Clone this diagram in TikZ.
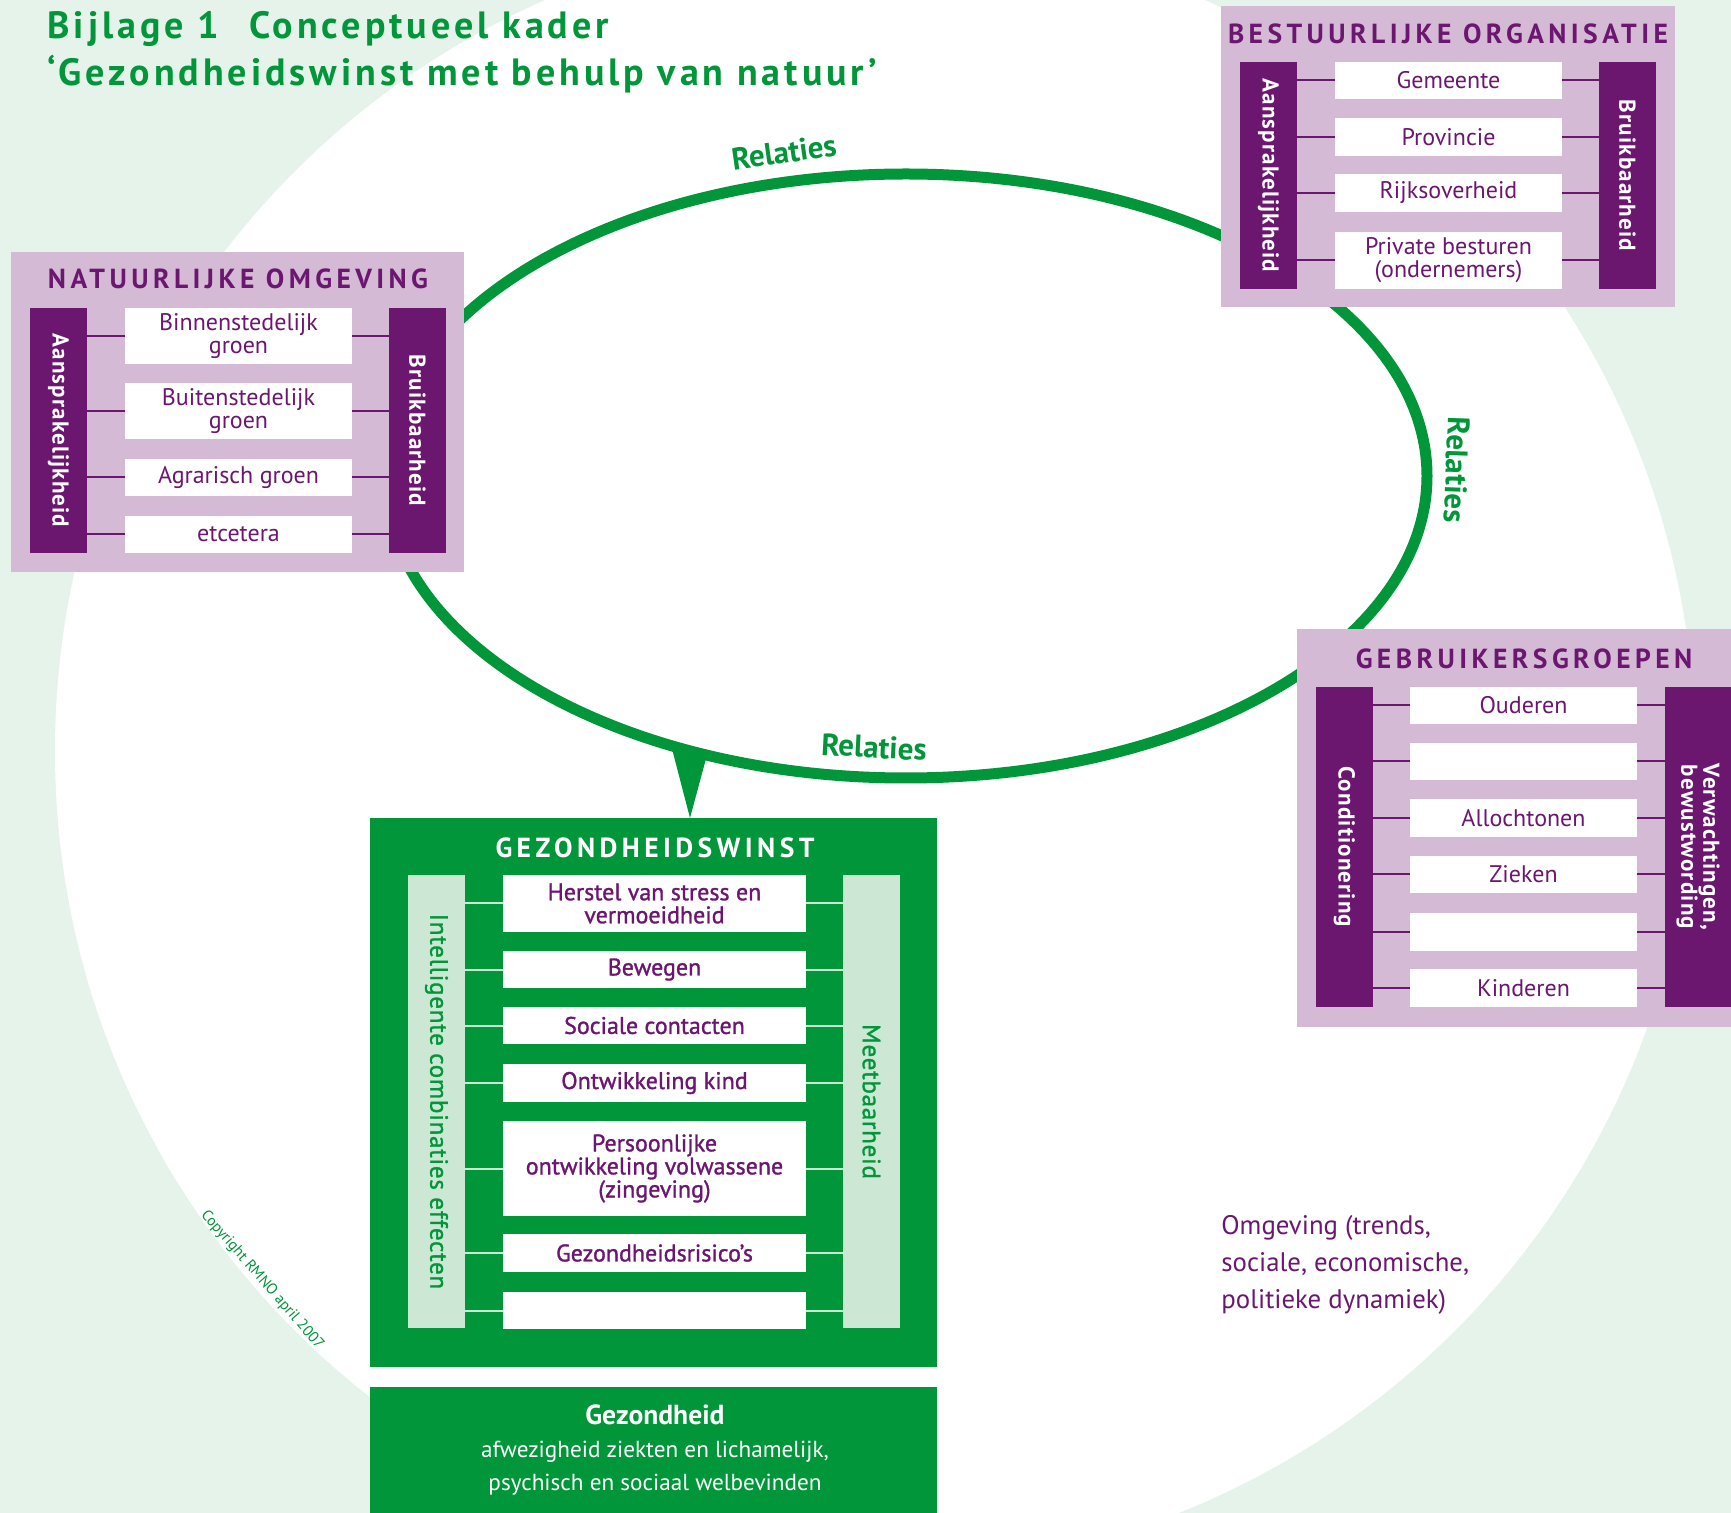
\documentclass[tikz,border=0pt]{standalone}
\usepackage{fontspec}
\setmainfont{PT Sans}
\newfontfamily\spacedfont[LetterSpace=16]{PT Sans}
\newfontfamily\titlefont[LetterSpace=10.5]{PT Sans}
\newfontfamily\barfont[LetterSpace=5]{PT Sans}
\newfontfamily\medfont[FakeBold=1.2]{PT Sans}
\newfontfamily\gbarfont[FakeBold=1.2,LetterSpace=3]{PT Sans}
\definecolor{grn}{RGB}{0,150,57}
\definecolor{bglt}{RGB}{230,243,235}
\definecolor{lilac}{RGB}{212,186,212}
\definecolor{purp}{RGB}{107,23,112}
\definecolor{barlt}{RGB}{204,232,212}
\newcommand\pbx[7]{\node[#2,anchor=north west,minimum width={(#5-#3)*0.5pt},minimum height={(#6-#4)*0.5pt}] (#1) at (#3,#4) {#7};}
\begin{document}
\begin{tikzpicture}[x=0.5pt,y=-0.5pt,
  itembox/.style={fill=white,text=purp,inner sep=0pt,outer sep=0pt,align=center,font=\fontsize{12}{11.5}\selectfont},
  gitem/.style={itembox,font=\medfont\fontsize{12}{11.5}\selectfont},
  pbar/.style={fill=purp,inner sep=0pt,outer sep=0pt},
  gbar/.style={fill=barlt,inner sep=0pt,outer sep=0pt},
  panel/.style={fill=lilac,inner sep=0pt,outer sep=0pt},
  gpanel/.style={fill=grn,inner sep=0pt,outer sep=0pt,text=white,align=center},
  ptitle/.style={text=purp,font=\spacedfont\bfseries\fontsize{13.8}{13.8}\selectfont},
  bartext/.style={rotate=-90,text=white,font=\barfont\bfseries\fontsize{11.5}{11}\selectfont,align=center},
  gbartext/.style={rotate=-90,text=grn,font=\gbarfont\fontsize{12.5}{12}\selectfont},
  plink/.style={draw=purp,line width=1pt},
  glink/.style={draw=barlt,line width=1pt},
  rel/.style={text=grn,font=\bfseries\fontsize{15.5}{15.5}\selectfont}
]
\useasboundingbox (0,0) rectangle (1731,1513);
\clip (0,0) rectangle (1731,1513);
\fill[bglt] (0,0) rectangle (1731,1513);
\fill[white] (875,751) circle [radius=820];

% title
\node[anchor=base west,inner sep=0pt,text=grn,font=\titlefont\bfseries\fontsize{19}{19}\selectfont] (t1) at (47,39) {Bijlage 1\hspace{15pt}Conceptueel kader};
\node[anchor=base west,inner sep=0pt,text=grn,font=\titlefont\bfseries\fontsize{19}{19}\selectfont] (t2) at (47,86) {‘Gezondheidswinst met behulp van natuur’};

% ellipse
\draw[grn,line width=5.5pt] (906,476) ellipse [x radius=521, y radius=302];
\coordinate (ca) at (671,745);
\coordinate (cb) at (707,755);
\coordinate (ctip) at (690,818);
\fill[grn] (ca) -- (cb) -- (ctip) -- cycle;

\node[rel,rotate=8] (r1) at (784,152) {Relaties};
\node[rel,rotate=-92] (r2) at (1457,470) {Relaties};
\node[rel,rotate=-3] (r3) at (874,747) {Relaties};

% NATUURLIJKE OMGEVING
\pbx{np}{panel}{11}{252}{464}{572}{}
\node[ptitle] (npt) at (238,279) {NATUURLIJKE OMGEVING};
\pbx{nl}{pbar}{30}{308}{87}{553}{}
\pbx{nr}{pbar}{389}{308}{446}{553}{}
\node[bartext] (nlt) at (nl.center) {Aansprakelijkheid};
\node[bartext] (nrt) at (nr.center) {Bruikbaarheid};
\pbx{n1}{itembox}{125}{308}{352}{364}{Binnenstedelijk\\groen}
\pbx{n2}{itembox}{125}{383}{352}{439}{Buitenstedelijk\\groen}
\pbx{n3}{itembox}{125}{459}{352}{496}{Agrarisch groen}
\pbx{n4}{itembox}{125}{516}{352}{553}{etcetera}
\foreach \i in {n1,n2,n3,n4}{\draw[plink] (\i.west) -- (\i.west -| nl.east); \draw[plink] (\i.east) -- (\i.east -| nr.west);}

% BESTUURLIJKE ORGANISATIE
\pbx{bp}{panel}{1221}{6}{1675}{307}{}
\node[ptitle] (bpt) at (1448,34) {BESTUURLIJKE ORGANISATIE};
\pbx{bl}{pbar}{1240}{62}{1297}{289}{}
\pbx{br}{pbar}{1599}{62}{1656}{289}{}
\node[bartext] (blt) at (bl.center) {Aansprakelijkheid};
\node[bartext] (brt) at (br.center) {Bruikbaarheid};
\pbx{b1}{itembox}{1335}{62}{1562}{99}{Gemeente}
\pbx{b2}{itembox}{1335}{118}{1562}{156}{Provincie}
\pbx{b3}{itembox}{1335}{174}{1562}{212}{Rijksoverheid}
\pbx{b4}{itembox}{1335}{232}{1562}{289}{Private besturen\\(ondernemers)}
\foreach \i in {b1,b2,b3,b4}{\draw[plink] (\i.west) -- (\i.west -| bl.east); \draw[plink] (\i.east) -- (\i.east -| br.west);}

% GEBRUIKERSGROEPEN
\pbx{up}{panel}{1297}{629}{1745}{1027}{}
\node[ptitle] (upt) at (1524,659) {GEBRUIKERSGROEPEN};
\pbx{ul}{pbar}{1316}{687}{1373}{1007}{}
\pbx{ur}{pbar}{1665}{687}{1745}{1007}{}
\node[bartext] (ult) at (ul.center) {Conditionering};
\node[bartext] (urt) at (1698,847) {Verwachtingen,\\bewustwording};
\pbx{u1}{itembox}{1410}{687}{1637}{724}{Ouderen}
\pbx{u2}{itembox}{1410}{743}{1637}{780}{}
\pbx{u3}{itembox}{1410}{799}{1637}{837}{Allochtonen}
\pbx{u4}{itembox}{1410}{856}{1637}{893}{Zieken}
\pbx{u5}{itembox}{1410}{913}{1637}{951}{}
\pbx{u6}{itembox}{1410}{969}{1637}{1007}{Kinderen}
\foreach \i in {u1,u2,u3,u4,u5,u6}{\draw[plink] (\i.west) -- (\i.west -| ul.east); \draw[plink] (\i.east) -- (\i.east -| ur.west);}

% GEZONDHEIDSWINST
\pbx{gp}{gpanel}{370}{818}{937}{1367}{}
\node[text=white,font=\spacedfont\bfseries\fontsize{13.8}{13.8}\selectfont] (gpt) at (655,848) {GEZONDHEIDSWINST};
\pbx{gl}{gbar}{408}{875}{465}{1328}{}
\pbx{gr}{gbar}{843}{875}{900}{1328}{}
\node[gbartext] (glt) at (gl.center) {Intelligente combinaties effecten};
\node[gbartext] (grt) at (gr.center) {Meetbaarheid};
\pbx{g1}{gitem}{503}{875}{806}{932}{Herstel van stress en\\vermoeidheid}
\pbx{g2}{gitem}{503}{951}{806}{988}{Bewegen}
\pbx{g3}{gitem}{503}{1007}{806}{1044}{Sociale contacten}
\pbx{g4}{gitem}{503}{1064}{806}{1102}{Ontwikkeling kind}
\pbx{g5}{gitem}{503}{1121}{806}{1216}{Persoonlijke\\ontwikkeling volwassene\\(zingeving)}
\pbx{g6}{gitem}{503}{1234}{806}{1272}{Gezondheidsrisico’s}
\pbx{g7}{gitem}{503}{1292}{806}{1329}{}
\foreach \i in {g1,g2,g3,g4,g5,g6,g7}{\draw[glink] (\i.west) -- (\i.west -| gl.east); \draw[glink] (\i.east) -- (\i.east -| gr.west);}

% Gezondheid
\pbx{hp}{gpanel}{370}{1387}{937}{1530}{}
\node[text=white,align=center,font=\fontsize{11.6}{16.5}\selectfont] (hpt) at (655,1450) {{\bfseries\fontsize{13.8}{16.5}\selectfont Gezondheid}\\afwezigheid ziekten en lichamelijk,\\psychisch en sociaal welbevinden};

% Omgeving
\node[anchor=west,align=left,text=purp,inner sep=0pt,font=\fontsize{13.4}{18.5}\selectfont] (om) at (1221,1265) {Omgeving (trends,\\sociale, economische,\\politieke dynamiek)};

% copyright
\node[rotate=-49,text=grn,font=\fontsize{7.6}{7.6}\selectfont] (cr) at (262,1280) {Copyright RMNO april 2007};
\end{tikzpicture}
\end{document}
